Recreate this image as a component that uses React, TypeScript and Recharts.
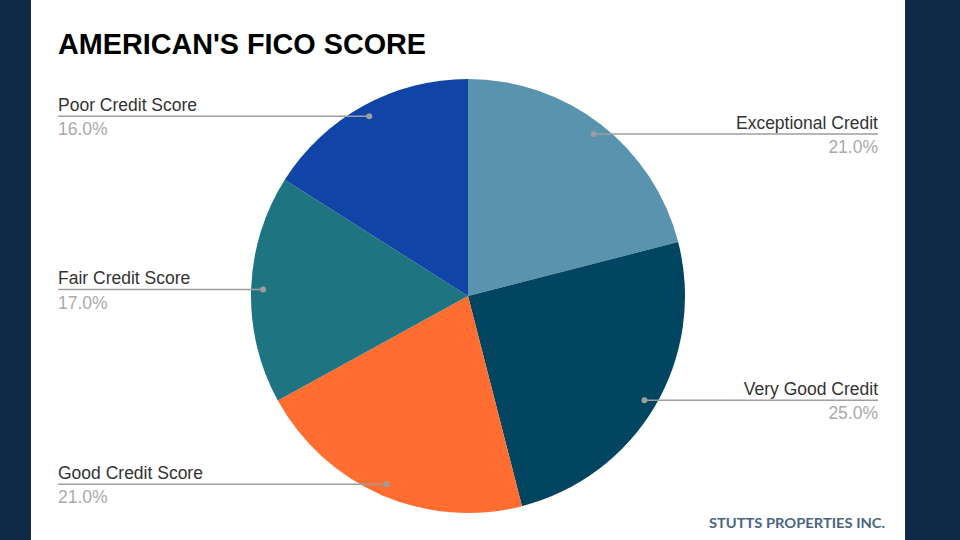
import React from 'react';
import { PieChart, Pie, Cell } from 'recharts';

const categories = ['Exceptional Credit', 'Very Good Credit', 'Good Credit Score', 'Fair Credit Score', 'Poor Credit Score'];
const shares = [21, 25, 21, 17, 16];
const sliceColors = ['#5a93ae', '#014561', '#ff6d30', '#1f7481', '#1044a6'];
const titleText = "AMERICAN'S FICO SCORE";
const footerText = 'STUTTS PROPERTIES INC.';

const data = categories.map((name, i) => ({ name, value: shares[i] }));

const RAD = Math.PI / 180;
const LEFT_X = 58;
const RIGHT_X = 878;

const renderLabel = (props: any) => {
  const { cx, cy, midAngle, outerRadius, name, percent } = props;
  const r = outerRadius - 12;
  const x = cx + r * Math.cos(-midAngle * RAD);
  const y = cy + r * Math.sin(-midAngle * RAD);
  const right = x > cx;
  const tx = right ? RIGHT_X : LEFT_X;
  const anchor = right ? 'end' : 'start';
  return (
    <g>
      <line x1={x} y1={y} x2={tx} y2={y} stroke="#9e9e9e" strokeWidth={1.5} />
      <circle cx={x} cy={y} r={3} fill="#9e9e9e" />
      <text x={tx} y={y - 5.5} textAnchor={anchor} fontFamily="'Liberation Sans', Arial, sans-serif" fontSize={17.5} fill="#333333">
        {name}
      </text>
      <text x={tx} y={y + 19} textAnchor={anchor} fontFamily="'Liberation Sans', Arial, sans-serif" fontSize={17.5} fill="#aaaaaa">
        {(percent * 100).toFixed(1) + '%'}
      </text>
    </g>
  );
};

export default function App() {
  return (
    <div style={{ position: 'absolute', left: 0, top: 0, width: 960, height: 540, background: '#0f2947', overflow: 'hidden' }}>
      <div style={{ position: 'absolute', left: 31, top: 0, width: 874, height: 540, background: '#ffffff' }} />
      <div style={{ position: 'absolute', left: 0, top: 0 }}>
        <PieChart width={960} height={540} margin={{ top: 0, right: 0, bottom: 0, left: 0 }}>
          <Pie
            data={data}
            dataKey="value"
            nameKey="name"
            cx={468}
            cy={296}
            outerRadius={217}
            startAngle={90}
            endAngle={-270}
            stroke="none"
            isAnimationActive={false}
            labelLine={false}
            label={renderLabel}
          >
            {data.map((d, i) => (
              <Cell key={d.name} fill={sliceColors[i]} />
            ))}
          </Pie>
        </PieChart>
      </div>
      <svg width={960} height={540} style={{ position: 'absolute', left: 0, top: 0, pointerEvents: 'none' }}>
        <text x={58} y={54} fontFamily="'Liberation Sans', Arial, sans-serif" fontWeight="bold" fontSize={29} fill="#000000" textLength={368} lengthAdjust="spacingAndGlyphs">
          {titleText}
        </text>
        <text x={709} y={528} fontFamily="Lato, 'Open Sans', sans-serif" fontWeight="bold" fontSize={14} fill="#4a6580" textLength={176} lengthAdjust="spacingAndGlyphs">
          {footerText}
        </text>
      </svg>
    </div>
  );
}
